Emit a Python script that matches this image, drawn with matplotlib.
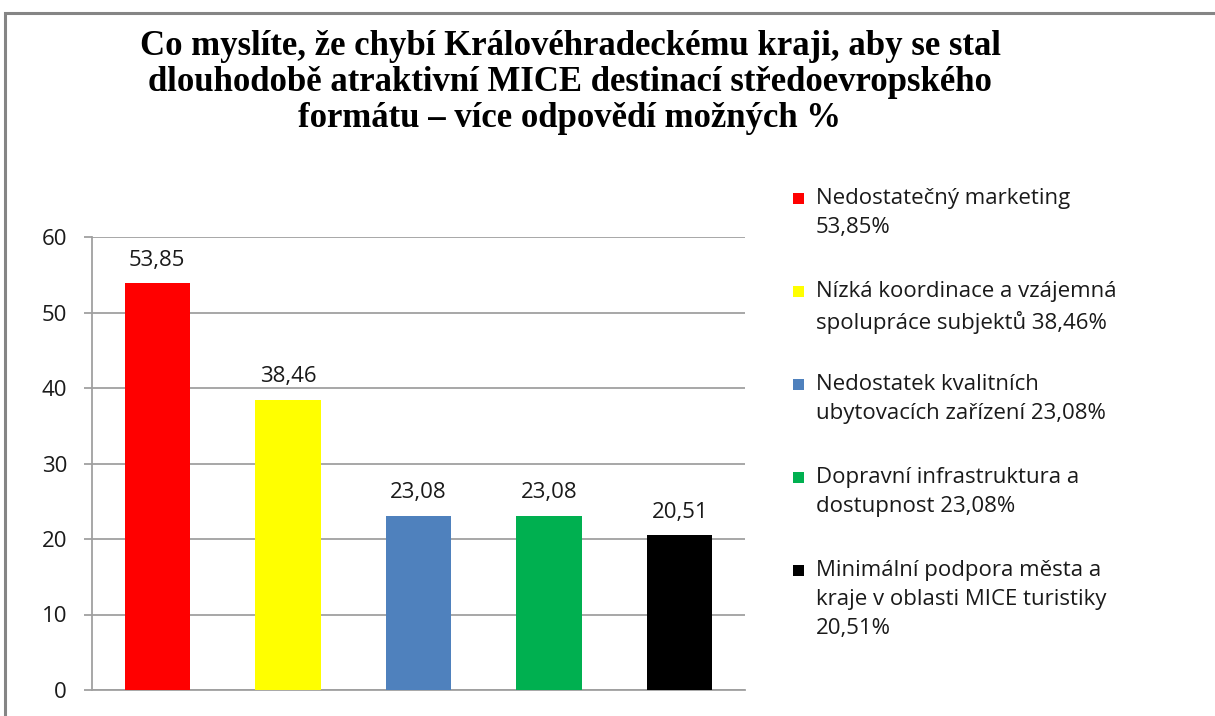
import matplotlib
matplotlib.use("Agg")
import matplotlib.pyplot as plt
from matplotlib.patches import Rectangle

# data
title = ("Co myslíte, že chybí Královéhradeckému kraji, aby se stal\n"
         "dlouhodobě atraktivní MICE destinací středoevropského\n"
         "formátu – více odpovědí možných %")
categories = [
    "Nedostatečný marketing\n53,85%",
    "Nízká koordinace a vzájemná\nspolupráce subjektů 38,46%",
    "Nedostatek kvalitních\nubytovacích zařízení 23,08%",
    "Dopravní infrastruktura a\ndostupnost 23,08%",
    "Minimální podpora města a\nkraje v oblasti MICE turistiky\n20,51%",
]
values = [53.85, 38.46, 23.08, 23.08, 20.51]
value_labels = ["53,85", "38,46", "23,08", "23,08", "20,51"]
colors = ["#ff0000", "#ffff00", "#4f81bd", "#00b050", "#000000"]
yticks = [0, 10, 20, 30, 40, 50, 60]

W, H = 1215, 716
SANS = ["Open Sans", "DejaVu Sans"]
GRID = "#a0a0a0"
TXT = "#1a1a1a"
FS = 16

fig = plt.figure(figsize=(W / 100, H / 100), dpi=100)
fig.patch.set_facecolor("white")

# vnější rámeček grafu (pravý a spodní okraj jsou mimo obrázek)
fig.add_artist(Rectangle((5 / W, -0.1), 1.2, 1.1 - 13 / H,
                         transform=fig.transFigure, fill=False,
                         edgecolor="#858585", linewidth=2.2))

fig.text(570 / W, 1 - 30 / H, title, ha="center", va="top",
         family=["Liberation Serif", "DejaVu Serif"], fontweight="bold",
         fontsize=25, linespacing=1.12, color="black")

ax = fig.add_axes([92 / W, 1 - 690 / H, (745 - 92) / W, (690 - 237) / H])
x = list(range(len(values)))
ax.bar(x, values, width=0.5, color=colors, zorder=3)
for xi, v, lab in zip(x, values, value_labels):
    ax.annotate(lab, (xi, v), xytext=(0, 9), textcoords="offset points",
                ha="center", va="bottom", fontsize=FS, family=SANS, color=TXT)

ax.set_xlim(-0.5, len(values) - 0.5)
ax.set_ylim(0, 60)
ax.set_yticks(yticks)
ax.set_yticklabels([str(t) for t in yticks], family=SANS, fontsize=FS,
                   color=TXT)
ax.set_xticks([])
ax.grid(True, axis="y", color=GRID, linewidth=1.3, zorder=0)
for s in ("top", "right"):
    ax.spines[s].set_visible(False)
for s in ("left", "bottom"):
    ax.spines[s].set_color(GRID)
    ax.spines[s].set_linewidth(1.3)
ax.tick_params(axis="y", length=6, width=1.3, color=GRID, pad=12)

# legenda vpravo (ruční rozložení kvůli víceřádkovým popiskům)
lax = fig.add_axes([0, 0, 1, 1])
lax.set_xlim(0, W)
lax.set_ylim(H, 0)
lax.axis("off")
for i, (lab, c) in enumerate(zip(categories, colors)):
    y0 = 198 + 93 * i
    lax.add_patch(Rectangle((793, y0 - 5.5), 11, 11, facecolor=c,
                            edgecolor="none"))
    lax.text(816, y0 - 10, lab, ha="left", va="top", fontsize=FS,
             family=SANS, linespacing=1.5, color=TXT)

fig.savefig("out.png", dpi=100, facecolor="white")
